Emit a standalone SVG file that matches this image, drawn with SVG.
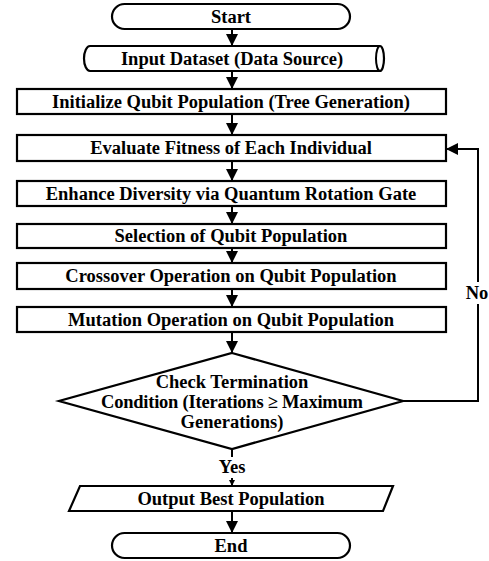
<svg xmlns="http://www.w3.org/2000/svg" width="489" height="561" viewBox="0 0 489 561">
<defs>
<style>
.s{fill:#fff;stroke:#000;stroke-width:2.2}
.t{font-family:"Liberation Serif","Times New Roman",serif;font-weight:bold;font-size:18.5px;fill:#000;text-anchor:middle;dominant-baseline:central}
.c{fill:none;stroke:#000;stroke-width:2}
</style>
<marker id="ah" viewBox="0 0 12 12" refX="12" refY="6" markerWidth="12" markerHeight="12" markerUnits="userSpaceOnUse" orient="auto">
<path d="M0,0 L12,6 L0,12 Z" fill="#000"/>
</marker>
<marker id="as" viewBox="0 0 6 6" refX="6" refY="3" markerWidth="6" markerHeight="6" markerUnits="userSpaceOnUse" orient="auto">
<path d="M0,0 L6,3 L0,6 Z" fill="#000"/>
</marker>
</defs>
<rect width="489" height="561" fill="#fff"/>
<g id="connectors">
<line class="c" x1="232" y1="29" x2="232" y2="46" marker-end="url(#ah)"/>
<line class="c" x1="232" y1="71" x2="232" y2="89" marker-end="url(#ah)"/>
<line class="c" x1="232" y1="114" x2="232" y2="135" marker-end="url(#ah)"/>
<line class="c" x1="232" y1="161" x2="232" y2="181" marker-end="url(#ah)"/>
<line class="c" x1="232" y1="206" x2="232" y2="224" marker-end="url(#ah)"/>
<line class="c" x1="232" y1="248" x2="232" y2="263" marker-end="url(#ah)"/>
<line class="c" x1="232" y1="289" x2="232" y2="307" marker-end="url(#ah)"/>
<line class="c" x1="232" y1="332" x2="232" y2="353" marker-end="url(#ah)"/>
<line class="c" x1="232" y1="449" x2="232" y2="486" marker-end="url(#as)"/>
<line class="c" x1="232" y1="511" x2="232" y2="533" marker-end="url(#ah)"/>
<polyline class="c" points="403,401 478,401 478,149 446,149" marker-end="url(#ah)"/>
<rect x="465" y="282" width="25" height="22" fill="#fff"/>
<text class="t" x="477" y="293">No</text>
<rect x="214" y="457" width="36" height="21" fill="#fff"/>
<text class="t" x="232" y="467">Yes</text>
</g>
<g id="start">
<rect class="s" x="112" y="4" width="238" height="25" rx="12.5"/>
<text class="t" x="231" y="16.5">Start</text>
</g>
<g id="input">
<path class="s" d="M90,46 H380 A4,12.5 0 0 1 380,71 H90 A6,12.5 0 0 1 90,46 Z"/>
<path class="c" d="M380,46 A4,12.5 0 0 0 380,71"/>
<text class="t" x="232" y="58.5">Input Dataset (Data Source)</text>
</g>
<g id="init">
<rect class="s" x="17" y="89" width="429" height="25"/>
<text class="t" x="231" y="101.5">Initialize Qubit Population (Tree Generation)</text>
</g>
<g id="evaluate">
<rect class="s" x="17" y="135" width="429" height="26"/>
<text class="t" x="231" y="148">Evaluate Fitness of Each Individual</text>
</g>
<g id="enhance">
<rect class="s" x="17" y="181" width="429" height="25"/>
<text class="t" x="231" y="193.5">Enhance Diversity via Quantum Rotation Gate</text>
</g>
<g id="selection">
<rect class="s" x="17" y="224" width="429" height="24"/>
<text class="t" x="231" y="236">Selection of Qubit Population</text>
</g>
<g id="crossover">
<rect class="s" x="17" y="263" width="429" height="26"/>
<text class="t" x="231" y="276">Crossover Operation on Qubit Population</text>
</g>
<g id="mutation">
<rect class="s" x="17" y="307" width="429" height="25"/>
<text class="t" x="231" y="319.5">Mutation Operation on Qubit Population</text>
</g>
<g id="check">
<polygon class="s" points="232,353 403,401 232,449 59,401"/>
<text class="t" x="232" y="382">Check Termination</text>
<text class="t" x="232" y="402" textLength="262" lengthAdjust="spacing">Condition (Iterations ≥ Maximum</text>
<text class="t" x="232" y="422">Generations)</text>
</g>
<g id="output">
<polygon class="s" points="80,486 393,486 383,511 69,511"/>
<text class="t" x="231" y="498.5">Output Best Population</text>
</g>
<g id="end">
<rect class="s" x="112" y="533" width="238" height="25" rx="12.5"/>
<text class="t" x="231" y="545.5">End</text>
</g>
</svg>
